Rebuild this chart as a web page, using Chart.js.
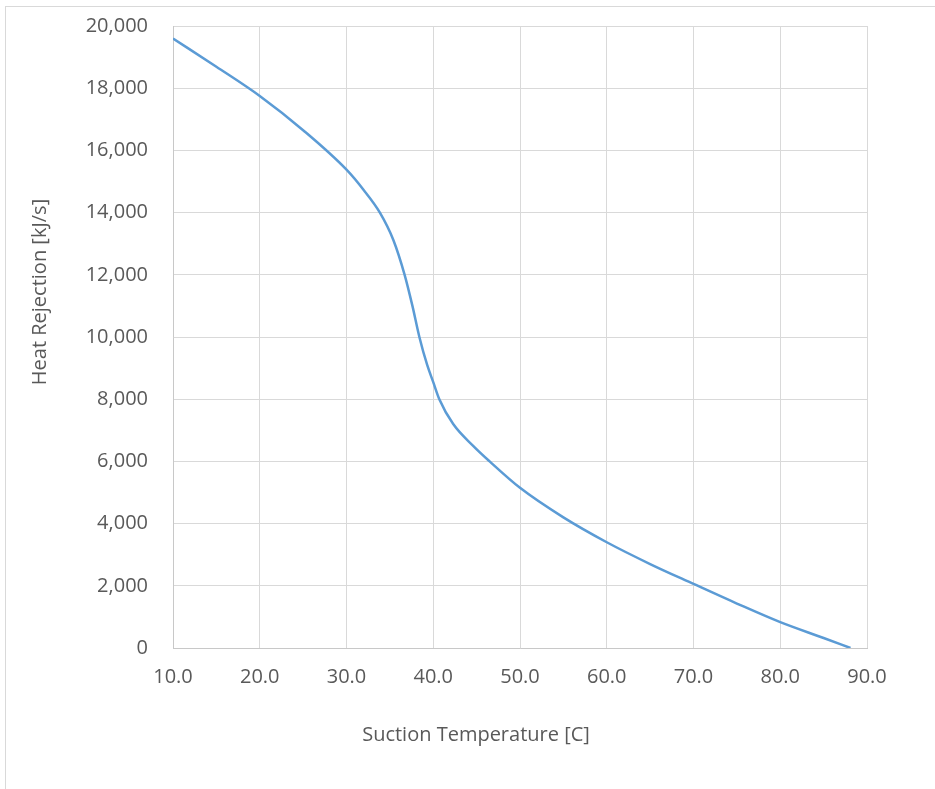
<!DOCTYPE html>
<html>
<head>
<meta charset="utf-8">
<script src="https://cdn.jsdelivr.net/npm/chart.js@4/dist/chart.umd.min.js"></script>
<style>
  body { margin: 0; background: #fff; overflow: hidden; }
  .frame { position: absolute; left: 5px; top: 6px; width: 2000px; height: 2000px; border: 1px solid #d9d9d9; }
  canvas { position: absolute; left: 0; top: 0; }
</style>
</head>
<body>
<div class="frame"></div>
<canvas id="myChart" width="935" height="789"></canvas>
<script>
  // suction temperature [C] and heat rejection [kJ/s]
  const temps = [10, 15, 20, 25, 30, 32, 33.85, 35.4, 36.7, 37.6, 38.4, 39.3, 40, 40.7, 42.3, 44.6, 46.5, 50, 55, 60, 65, 70, 75, 80, 85, 88.1];
  const heat  = [19600, 18690, 17750, 16650, 15380, 14720, 14000, 13120, 12000, 11000, 10000, 9100, 8550, 8000, 7200, 6500, 6000, 5150, 4200, 3400, 2700, 2060, 1430, 830, 320, 0];

  const xTitle = 'Suction Temperature [C]';
  const yTitle = 'Heat Rejection [kJ/s]';

  const textColor = '#595959';
  const gridColor = '#d9d9d9';
  const font = { family: 'Open Sans', size: 20 };

  // axis titles sit off-centre in the original, so draw them by hand
  const axisTitles = {
    id: 'axisTitles',
    afterDraw(chart) {
      const ctx = chart.ctx;
      ctx.save();
      ctx.fillStyle = textColor;
      ctx.font = '20px "Open Sans"';
      ctx.textAlign = 'center';
      ctx.textBaseline = 'middle';
      ctx.fillText(xTitle, 476, 735);
      ctx.translate(40, 292);
      ctx.rotate(-Math.PI / 2);
      ctx.fillText(yTitle, 0, 0);
      ctx.restore();
    }
  };

  const points = temps.map((t, i) => ({ x: t, y: heat[i] }));

  const chartCanvas = document.getElementById('myChart');
  const myChart = new Chart(chartCanvas.getContext('2d'), {
    type: 'scatter',
    data: {
      datasets: [{
        data: points,
        showLine: true,
        borderColor: '#5B9BD5',
        borderWidth: 2.5,
        pointRadius: 0,
        cubicInterpolationMode: 'monotone'
      }]
    },
    plugins: [axisTitles],
    options: {
      responsive: false,
      animation: false,
      layout: { padding: { left: 0, right: 68, top: 26, bottom: 0 } },
      plugins: { legend: { display: false }, tooltip: { enabled: false } },
      scales: {
        x: {
          type: 'linear',
          min: 10,
          max: 90,
          afterFit: s => { s.height = 141; },
          grid: { color: gridColor, drawTicks: false },
          border: { color: '#c8c8c8', width: 1 },
          ticks: {
            stepSize: 10,
            padding: 17,
            color: textColor,
            font: font,
            callback: v => v.toFixed(1)
          }
        },
        y: {
          min: 0,
          max: 20000,
          // tick padding would otherwise push the plot top down
          afterFit: s => { s.width = 173; s.paddingTop = 0; s.paddingBottom = 0; },
          grid: { color: gridColor, drawTicks: false },
          border: { color: '#c8c8c8', width: 1 },
          ticks: {
            stepSize: 2000,
            padding: 25,
            color: textColor,
            font: font,
            callback: v => v.toLocaleString('en-US')
          }
        }
      }
    }
  });
</script>
</body>
</html>
